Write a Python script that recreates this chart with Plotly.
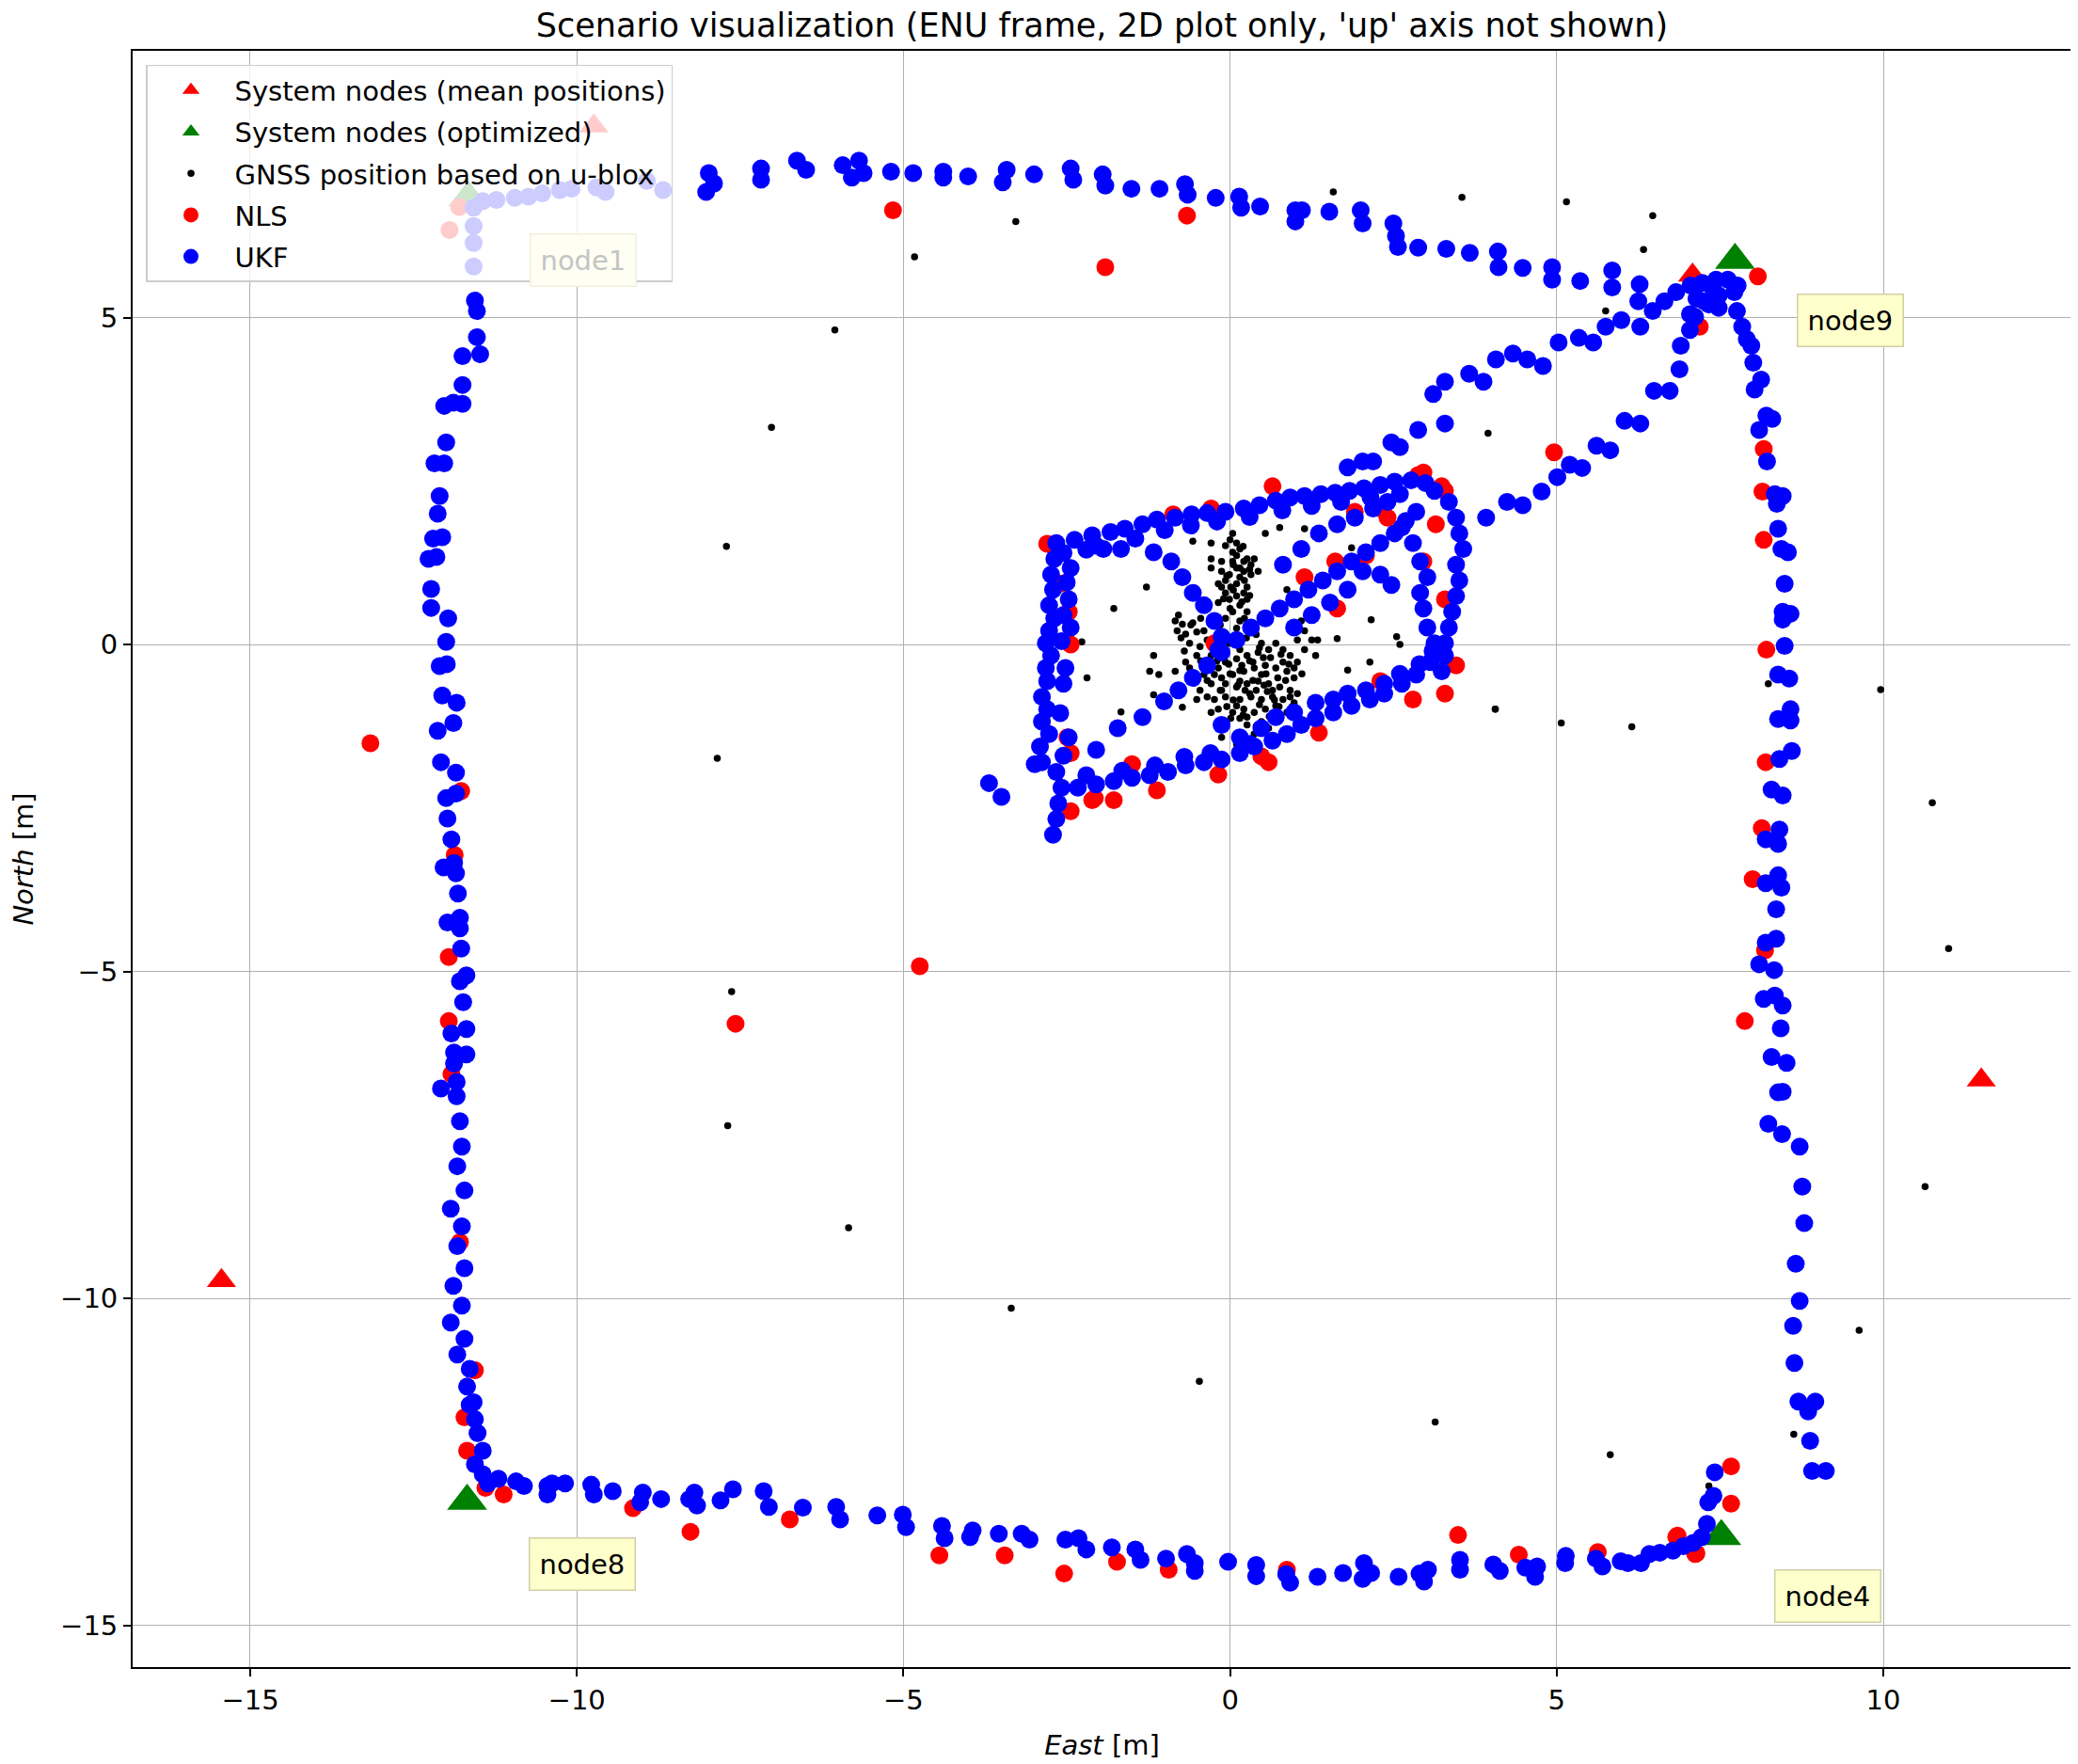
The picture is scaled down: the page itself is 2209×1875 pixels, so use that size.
import plotly.graph_objects as go

# ---------------- data (East, North) in metres ----------------
nodes_mean = [(-9.74, 7.93), (7.08, 5.65), (11.50, -6.66), (-15.44, -9.73)]
nodes_opt = [(-11.66, 6.83), (7.73, 5.88), (7.52, -13.64), (-11.68, -13.10)]

gnss_far = [(1.58, 6.92), (3.55, 6.84), (5.15, 6.77), (6.47, 6.56), (6.33, 6.04), (5.75, 5.10),
            (3.95, 3.23), (-3.28, 6.47), (-4.83, 5.93), (-6.05, 4.81), (-7.02, 3.32), (-7.71, 1.50),
            (-7.85, -1.74), (-7.63, -5.31), (-7.69, -7.36), (-5.84, -8.92), (-3.35, -10.15),
            (-0.47, -11.27), (3.14, -11.89), (5.82, -12.39), (7.33, -12.87), (8.63, -12.08),
            (9.63, -10.49), (10.64, -8.29), (11.00, -4.65), (10.75, -2.42), (9.96, -0.69),
            (8.24, -0.60), (6.15, -1.26), (5.07, -1.20), (4.06, -0.99)]
gnss_center_top = [(0.04, 1.70), (0.10, 1.55), (0.15, 1.46), (0.10, 1.36), (0.26, 1.31), (0.37, 1.31),
                   (0.04, 1.27), (0.15, 1.17), (-0.13, 1.12), (-0.01, 1.07), (0.15, 1.03), (0.32, 1.07),
                   (0.43, 1.12), (-0.29, 1.31), (-0.29, 1.17), (-0.57, 1.58), (-0.29, 1.55), (0.54, 1.70),
                   (0.76, 1.79), (1.14, 1.77), (-0.07, 0.98), (0.10, 0.93), (0.26, 0.88), (-0.07, 0.79),
                   (0.10, 0.74), (0.15, 0.60), (0.04, 0.50), (-0.07, 1.51), (0.04, 1.41), (0.32, 1.22),
                   (-0.13, 0.88), (-0.01, 0.69), (-0.18, 0.64), (0.26, 0.69), (-0.07, 0.40), (0.10, 1.17),
                   (0.21, 1.12), (0.01, 0.88), (0.21, 0.79), (-0.18, 0.93), (0.15, 0.36), (0.26, 0.50),
                   (-0.13, 1.27), (0.21, 1.27), (0.00, 1.60), (0.20, 1.50), (0.05, 1.22), (0.30, 1.15),
                   (-0.05, 1.05), (0.22, 0.98), (0.05, 0.83), (0.30, 0.75), (-0.10, 0.70), (0.18, 0.65),
                   (0.00, 0.55), (0.22, 0.40), (-0.15, 0.30), (0.10, 0.25), (0.25, 0.10), (0.40, 0.15),
                   (0.05, 0.10)]
gnss_center_side = [(-0.79, 0.45), (-0.84, 0.36), (-0.73, 0.31), (-0.57, 0.33), (-0.81, 0.21), (-0.68, 0.16),
                    (-0.51, 0.19), (-0.40, 0.21), (-0.35, 0.07), (-0.62, 0.02), (-0.46, -0.03), (-0.51, -0.17),
                    (-0.29, -0.17), (-0.68, -0.27), (-0.84, -0.41), (-0.62, -0.36), (-1.23, -0.41),
                    (-1.09, -0.46), (-1.17, -0.17), (-1.28, 0.88), (-1.78, 0.55), (-2.27, 0.04),
                    (-2.19, -0.51), (-1.17, -0.77), (-0.73, -0.96), (-1.67, -1.03), (0.87, 0.84),
                    (1.14, 0.88), (0.98, 0.74), (1.09, 0.36), (1.14, 0.21), (1.03, 0.07), (1.25, 0.07),
                    (1.34, 0.07), (1.14, -0.08), (1.31, -0.17), (1.64, 0.09), (1.80, -0.39), (2.14, -0.27),
                    (2.16, 0.38), (2.55, 0.12), (2.60, 0.00), (4.06, -0.99), (1.86, 1.48), (1.58, 0.50),
                    (-0.70, -0.10), (-0.75, 0.10), (-0.60, 0.30), (-0.45, 0.40), (-0.45, -0.25),
                    (-0.35, -0.55), (-0.20, -0.25)]
gnss_center_low = [(-0.18, -0.36), (-0.07, -0.27), (0.10, -0.22), (0.26, -0.17), (0.43, -0.12), (0.59, -0.08),
                   (0.70, 0.02), (0.81, -0.08), (0.92, -0.17), (1.03, -0.27), (-0.13, -0.51), (0.04, -0.46),
                   (0.21, -0.41), (0.37, -0.36), (0.54, -0.32), (0.70, -0.36), (0.87, -0.41), (0.98, -0.51),
                   (-0.29, -0.60), (-0.13, -0.70), (0.10, -0.65), (0.26, -0.60), (0.43, -0.56), (0.59, -0.60),
                   (0.76, -0.65), (0.92, -0.70), (1.03, -0.75), (-0.24, -0.84), (-0.07, -0.80), (0.15, -0.84),
                   (0.32, -0.80), (0.48, -0.84), (0.65, -0.80), (0.81, -0.84), (0.98, -0.89), (-0.18, -0.99),
                   (0.04, -1.04), (0.21, -0.99), (0.37, -1.04), (0.54, -0.99), (0.70, -0.94), (0.87, -1.04),
                   (0.15, -1.13), (0.26, -1.23), (0.48, -1.18), (-0.40, -0.46), (-0.46, -0.70), (-0.01, 0.02),
                   (0.15, -0.08), (0.48, 0.02), (-0.62, -0.56), (-0.35, -0.80), (-0.51, -0.84), (-0.29, -1.04),
                   (-0.13, -1.42), (0.10, -1.52), (0.37, -1.37), (0.59, -1.28), (0.18, -0.32), (0.35, -0.27),
                   (0.51, -0.20), (0.23, -0.70), (0.40, -0.70), (0.57, -0.72), (0.73, -0.51), (0.10, -0.94),
                   (-0.07, -0.60), (-0.24, -0.46), (0.15, -0.56), (0.48, -0.46), (0.81, -0.27), (0.98, -0.36),
                   (0.92, -0.80), (0.01, -1.13), (0.26, -1.11), (0.45, -0.05), (0.62, -0.20), (0.78, -0.15),
                   (0.30, -0.25), (0.15, -0.40), (0.55, -0.45), (0.85, -0.55), (0.65, -0.70), (0.30, -0.75),
                   (0.05, -0.85), (0.45, -0.92), (0.75, -0.95), (0.95, -0.95), (0.20, -1.08), (0.60, -1.10),
                   (0.40, -1.25), (-0.05, -0.95), (-0.15, -0.70), (0.00, -0.45), (0.68, -0.85), (0.90, -0.30),
                   (1.10, -0.45), (0.52, -0.62), (0.35, -0.55), (0.12, -0.62), (-0.02, -0.30)]

nls_outer = [(-11.80, 6.69), (-11.95, 6.34), (-5.16, 6.64), (-0.66, 6.56), (-1.91, 5.77), (-13.16, -1.51),
             (-4.75, -4.92), (-7.57, -5.80), (4.96, 2.94), (8.08, 5.63), (7.19, 4.86), (8.17, 2.99),
             (8.15, 2.34), (8.17, 1.60), (8.21, -0.08), (8.20, -1.80), (8.14, -2.81), (8.00, -3.59),
             (8.19, -4.68), (7.88, -5.76), (7.67, -12.57), (7.67, -13.14), (6.85, -13.63), (7.14, -13.90),
             (7.12, -13.91), (6.83, -13.65), (5.63, -13.88), (4.42, -13.92), (3.49, -13.62), (0.87, -14.15),
             (-0.94, -14.15), (-1.73, -14.03), (-2.54, -14.21), (-3.45, -13.93), (-4.45, -13.93),
             (-6.74, -13.38), (-8.26, -13.57), (-9.14, -13.21), (-11.12, -13.00), (-11.40, -12.90),
             (-11.68, -12.33), (-11.72, -11.82), (-11.56, -11.10), (-11.79, -9.14), (-11.77, -2.24),
             (-11.87, -3.22), (-11.96, -4.78), (-11.96, -5.76), (-11.92, -6.57)]
nls_center = [(-2.80, 1.54), (0.65, 2.42), (-0.87, 1.99), (-0.29, 2.08), (2.96, 2.63), (3.24, 2.42),
              (3.15, 1.84), (3.29, 0.69), (3.46, -0.32), (3.29, -0.75), (2.80, -0.84), (2.30, -0.56),
              (1.36, -1.35), (0.59, -1.80), (-0.18, -1.99), (-1.12, -2.23), (-1.50, -1.83), (-1.78, -2.38),
              (-2.11, -2.38), (-2.44, -2.55), (-2.60, 0.93), (-2.47, 0.50), (-2.44, 0.00), (-2.49, -1.42),
              (-2.44, -1.66), (1.61, 1.27), (2.08, 1.36), (1.91, 2.03), (1.14, 1.03), (1.64, 0.55),
              (2.30, 2.08), (2.96, 1.27), (2.41, 1.94), (-0.24, 0.02), (0.48, -1.71), (2.88, 2.59),
              (3.29, 2.35), (-2.07, -2.35)]

ukf_left = [(-11.58, 6.68), (-11.58, 6.40), (-11.58, 6.14), (-11.58, 5.78), (-11.56, 5.26), (-11.53, 5.10),
            (-11.53, 4.70), (-11.48, 4.44), (-11.75, 4.41), (-11.75, 3.97), (-11.75, 3.68), (-12.03, 3.65),
            (-11.89, 3.70), (-12.00, 3.09), (-12.18, 2.77), (-12.03, 2.77), (-12.10, 2.27), (-12.13, 2.00),
            (-12.20, 1.62), (-12.06, 1.64), (-12.27, 1.31), (-12.15, 1.34), (-12.23, 0.85), (-12.23, 0.56),
            (-11.97, 0.40), (-12.00, 0.04), (-12.10, -0.33), (-11.99, -0.30), (-12.06, -0.78), (-11.84, -0.89),
            (-12.13, -1.32), (-11.89, -1.20), (-12.08, -1.80), (-11.85, -1.96), (-12.00, -2.35), (-11.85, -2.28),
            (-11.98, -2.66), (-11.92, -2.98), (-12.04, -3.41), (-11.88, -3.34), (-11.85, -3.50), (-11.82, -3.81),
            (-11.98, -4.25), (-11.79, -4.18), (-11.79, -4.34), (-11.77, -4.65), (-11.69, -5.06), (-11.79, -5.15),
            (-11.74, -5.47), (-11.69, -5.88), (-11.92, -5.95), (-11.69, -6.27), (-11.88, -6.24), (-11.88, -6.41),
            (-12.08, -6.79), (-11.84, -6.69), (-11.84, -6.91), (-11.79, -7.29), (-11.76, -7.68), (-11.83, -7.98),
            (-11.72, -8.35), (-11.93, -8.63), (-11.76, -8.90), (-11.83, -9.20), (-11.72, -9.54), (-11.89, -9.81),
            (-11.76, -10.11), (-11.93, -10.37), (-11.72, -10.62), (-11.83, -10.86), (-11.64, -11.08),
            (-11.68, -11.35), (-11.58, -11.59), (-11.64, -11.63), (-11.56, -11.85), (-11.52, -12.06),
            (-11.44, -12.33), (-11.56, -12.54), (-11.44, -12.69), (-11.36, -12.83)]
ukf_bottom = [(-11.20, -12.76), (-10.93, -12.80), (-10.81, -12.87), (-10.45, -12.87), (-10.45, -13.00),
              (-10.38, -12.83), (-10.18, -12.83), (-9.78, -12.85), (-9.74, -13.00), (-9.45, -12.95),
              (-8.99, -12.97), (-9.03, -13.12), (-8.71, -13.07), (-8.20, -12.97), (-8.28, -13.07),
              (-8.16, -13.17), (-7.80, -13.09), (-7.61, -12.92), (-7.14, -12.95), (-7.06, -13.19),
              (-6.54, -13.20), (-6.03, -13.19), (-5.97, -13.38), (-5.40, -13.32), (-5.01, -13.31),
              (-4.96, -13.50), (-4.41, -13.48), (-4.37, -13.67), (-3.98, -13.65), (-3.94, -13.55),
              (-3.54, -13.60), (-3.19, -13.60), (-3.07, -13.69), (-2.52, -13.69), (-2.32, -13.67),
              (-2.20, -13.84), (-1.81, -13.81), (-1.45, -13.84), (-1.37, -14.00), (-0.98, -13.98),
              (-0.66, -13.91), (-0.54, -14.05), (-0.54, -14.17), (-0.03, -14.03), (0.40, -14.08),
              (0.40, -14.25), (0.86, -14.22), (0.92, -14.35), (1.34, -14.26), (1.73, -14.20), (2.05, -14.05),
              (2.16, -14.20), (2.03, -14.29), (2.58, -14.26), (3.03, -14.15), (2.90, -14.21), (2.97, -14.33),
              (3.52, -14.00), (3.52, -14.15), (4.03, -14.07), (4.13, -14.17), (4.52, -14.12), (4.70, -14.10),
              (4.67, -14.26), (5.14, -13.94), (5.13, -14.05), (5.60, -13.98), (5.70, -14.10), (5.98, -14.02),
              (6.09, -14.05), (6.29, -14.05), (6.42, -13.91), (6.58, -13.89), (6.78, -13.86), (6.94, -13.79),
              (7.09, -13.74), (7.22, -13.65), (7.30, -13.45), (7.32, -13.12), (7.40, -13.02), (7.42, -12.66)]
ukf_right = [(7.72, 5.39), (7.76, 5.10), (7.84, 4.86), (7.91, 4.67), (7.98, 4.57), (8.01, 4.31), (8.13, 4.05),
             (8.03, 3.90), (8.21, 3.50), (8.30, 3.45), (8.10, 3.28), (8.22, 2.80), (8.34, 2.30), (8.46, 2.27),
             (8.37, 2.15), (8.39, 1.77), (8.44, 1.46), (8.54, 1.41), (8.49, 0.93), (8.46, 0.50), (8.58, 0.47),
             (8.46, 0.38), (8.49, -0.02), (8.39, -0.46), (8.56, -0.52), (8.58, -0.99), (8.39, -1.14),
             (8.58, -1.16), (8.60, -1.63), (8.41, -1.75), (8.29, -2.22), (8.46, -2.31), (8.41, -2.83),
             (8.20, -2.98), (8.39, -3.05), (8.39, -3.53), (8.20, -3.65), (8.44, -3.72), (8.36, -4.05),
             (8.36, -4.50), (8.20, -4.56), (8.10, -4.89), (8.33, -4.98), (8.17, -5.42), (8.34, -5.37),
             (8.46, -5.52), (8.43, -5.87), (8.29, -6.31), (8.52, -6.40), (8.46, -6.84), (8.39, -6.85),
             (8.24, -7.33), (8.45, -7.49), (8.72, -7.68), (8.76, -8.29), (8.79, -8.85), (8.66, -9.47),
             (8.72, -10.04), (8.62, -10.42), (8.64, -10.99), (8.70, -11.58), (8.96, -11.58), (8.85, -11.73),
             (8.88, -12.18), (8.91, -12.64), (9.12, -12.64)]
ukf_top = [(-11.44, 6.78), (-11.23, 6.80), (-10.95, 6.83), (-10.74, 6.85), (-10.53, 6.90), (-10.26, 6.95),
           (-10.08, 6.97), (-9.70, 6.99), (-9.56, 6.92), (-8.93, 7.09), (-8.68, 6.95), (-8.02, 6.92),
           (-7.98, 7.21), (-7.90, 7.05), (-7.18, 7.28), (-7.18, 7.11), (-6.63, 7.40), (-6.49, 7.26),
           (-5.93, 7.33), (-5.68, 7.40), (-5.61, 7.21), (-5.79, 7.14), (-5.19, 7.23), (-4.85, 7.21),
           (-4.39, 7.23), (-4.39, 7.14), (-4.01, 7.16), (-3.42, 7.26), (-3.48, 7.07), (-3.00, 7.19),
           (-2.44, 7.28), (-2.40, 7.11), (-1.95, 7.19), (-1.91, 7.02), (-1.51, 6.97), (-1.08, 6.97),
           (-0.69, 7.04), (-0.65, 6.88), (-0.22, 6.83), (0.14, 6.85), (0.17, 6.68), (0.46, 6.70),
           (1.00, 6.64), (1.10, 6.64), (1.00, 6.47), (1.52, 6.62), (2.00, 6.64), (2.03, 6.44), (2.50, 6.44),
           (2.54, 6.25), (2.57, 6.08), (2.88, 6.07), (3.31, 6.05), (3.67, 5.99), (4.10, 6.01), (4.11, 5.77),
           (4.48, 5.76), (4.93, 5.77), (4.93, 5.58), (5.36, 5.56), (5.85, 5.72), (5.85, 5.46), (6.27, 5.51),
           (6.25, 5.25)]
ukf_node9 = [(6.47, 5.10), (6.65, 5.25), (6.83, 5.39), (7.05, 5.49), (7.23, 5.53), (7.44, 5.58), (7.62, 5.58),
             (7.77, 5.49), (7.14, 5.29), (7.33, 5.20), (7.04, 5.05), (7.48, 5.34), (7.26, 5.25), (7.41, 5.39),
             (7.48, 5.15), (7.12, 5.01)]
ukf_diag_upper = [(1.80, 2.71), (2.03, 2.80), (2.19, 2.80), (2.47, 3.09), (2.60, 3.02), (2.88, 3.28),
                  (3.29, 3.38), (3.11, 3.83), (3.29, 4.02), (3.66, 4.14), (3.88, 4.02), (4.07, 4.36),
                  (4.33, 4.45), (4.55, 4.36), (4.79, 4.26), (5.03, 4.62), (5.34, 4.69), (5.56, 4.62),
                  (5.75, 4.86), (5.99, 4.96), (6.28, 4.86)]
ukf_diag_lower = [(7.04, 4.81), (6.90, 4.57), (6.88, 4.21), (6.73, 3.88), (6.49, 3.88), (6.28, 3.38),
                  (6.04, 3.42), (5.82, 2.97), (5.61, 3.04), (5.39, 2.70), (5.20, 2.75), (5.01, 2.56),
                  (4.77, 2.34), (4.48, 2.13), (4.24, 2.18), (3.92, 1.94)]
ukf_loop_left = [(-2.66, 1.55), (-2.69, 1.31), (-2.74, 1.07), (-2.71, 0.84), (-2.77, 0.60), (-2.69, 0.40),
                 (-2.77, 0.21), (-2.82, 0.02), (-2.74, -0.17), (-2.82, -0.36), (-2.80, -0.56), (-2.88, -0.80),
                 (-2.80, -0.99), (-2.88, -1.18), (-2.77, -1.37), (-2.91, -1.56), (-2.88, -1.80), (-2.66, -1.95),
                 (-2.58, -2.19), (-2.63, -2.43), (-2.66, -2.67), (-2.71, -2.91), (-2.44, 0.26), (-2.47, 0.69),
                 (-2.52, -0.36), (-2.47, -1.42), (-2.44, 1.17), (-2.99, -1.83), (-3.69, -2.12), (-3.50, -2.33),
                 (-2.55, 1.40), (-2.50, 0.95), (-2.55, 0.45), (-2.58, 0.05), (-2.55, -0.60), (-2.60, -1.05),
                 (-2.55, -1.70)]
ukf_loop_top = [(-2.38, 1.60), (-2.11, 1.67), (-1.83, 1.72), (-1.61, 1.77), (-1.34, 1.84), (-1.12, 1.91),
                (-0.84, 1.94), (-0.59, 1.99), (-0.35, 2.01), (-0.07, 2.03), (0.21, 2.08), (0.45, 2.13),
                (0.70, 2.20), (0.92, 2.25), (1.14, 2.27), (1.39, 2.30), (1.61, 2.32), (1.83, 2.35), (2.05, 2.39),
                (2.30, 2.44), (2.52, 2.49), (2.77, 2.51), (2.99, 2.47), (-2.05, 1.51), (-1.94, 1.46),
                (-1.67, 1.46), (-1.17, 1.41), (-2.20, 1.45), (-1.45, 1.62), (-1.00, 1.75), (-0.60, 1.82),
                (-0.20, 1.88), (0.30, 1.95), (0.80, 2.05), (1.25, 2.12), (1.70, 2.18), (2.15, 2.25),
                (2.60, 2.30)]
ukf_loop_right = [(3.13, 2.35), (3.35, 2.18), (3.46, 1.94), (3.51, 1.70), (3.57, 1.46), (3.46, 1.22),
                  (3.51, 0.98), (3.46, 0.74), (3.40, 0.50), (3.35, 0.26), (3.29, 0.02), (3.29, -0.17),
                  (3.24, -0.41), (2.63, 1.79), (2.80, 1.55), (2.91, 1.27), (3.02, 1.03), (2.91, 0.79),
                  (2.96, 0.55), (3.02, 0.26), (3.13, 0.02)]
ukf_loop_bottom = [(3.07, -0.27), (2.85, -0.46), (2.63, -0.60), (2.36, -0.75), (2.14, -0.84), (1.86, -0.94),
                   (1.58, -1.04), (1.31, -1.13), (1.09, -1.23), (0.87, -1.37), (0.65, -1.47), (0.37, -1.56),
                   (0.15, -1.66), (-0.13, -1.76), (-0.40, -1.80), (-0.68, -1.85), (-0.95, -1.95), (-1.23, -2.00),
                   (-1.50, -2.04), (-1.78, -2.09), (-2.05, -2.14), (-2.33, -2.19), (-0.13, -1.23), (0.15, -1.42),
                   (0.48, -1.28), (0.70, -1.11), (0.98, -1.04), (1.31, -0.89), (1.58, -0.84), (1.80, -0.75),
                   (2.08, -0.70), (2.36, -0.60), (-2.20, -2.00), (-1.65, -1.93), (-1.15, -1.85), (-0.70, -1.72),
                   (-0.30, -1.66), (0.30, -1.52), (2.60, -0.45), (2.90, -0.30), (3.10, -0.10)]
ukf_loop_diag = [(-2.05, -1.61), (-1.72, -1.28), (-1.34, -1.11), (-1.01, -0.87), (-0.79, -0.70), (-0.57, -0.51),
                 (-0.35, -0.32), (-0.13, -0.12), (0.10, 0.07), (0.32, 0.26), (0.54, 0.40), (0.76, 0.55),
                 (0.98, 0.69), (1.20, 0.84), (1.42, 0.98), (1.64, 1.12), (1.86, 1.27), (2.08, 1.41), (2.30, 1.55),
                 (2.52, 1.70), (2.69, 1.89), (2.85, 2.03), (0.81, 1.22), (1.09, 1.46), (1.36, 1.70), (1.64, 1.84),
                 (1.91, 1.94), (2.19, 2.08), (2.41, 2.18), (0.98, 0.26), (1.25, 0.45), (1.53, 0.64), (1.80, 0.84),
                 (2.03, 1.12), (2.30, 1.07), (2.47, 0.91), (-0.90, 1.27), (-0.73, 1.03), (-0.57, 0.79),
                 (-0.40, 0.60), (-0.24, 0.36), (-0.13, 0.12), (-0.18, -0.08)]

node_labels = ["node1", "node9", "node4", "node8"]
label_pos = [(-9.90, 5.88), (9.49, 4.96), (9.15, -14.55), (-9.92, -14.06)]

x_ticks = [-15, -10, -5, 0, 5, 10]
y_ticks = [-15, -10, -5, 0, 5]


def xs(pts):
    return [p[0] for p in pts]


def ys(pts):
    return [p[1] for p in pts]


gnss = gnss_far + gnss_center_top + gnss_center_side + gnss_center_low
nls = nls_outer + nls_center
ukf = (ukf_left + ukf_bottom + ukf_right + ukf_top + ukf_node9 + ukf_diag_upper + ukf_diag_lower
       + ukf_loop_left + ukf_loop_top + ukf_loop_right + ukf_loop_bottom + ukf_loop_diag)

FONT = "DejaVu Sans"
FS = 29
W, H = 2201, 1867   # page body has an 8 px margin

fig = go.Figure()
fig.add_trace(go.Scatter(x=xs(nodes_mean), y=ys(nodes_mean), mode="markers", name="System nodes (mean positions)",
                         legendgroup="a",
                         marker=dict(symbol="triangle-up", size=27, color="#ff0000")))
fig.add_trace(go.Scatter(x=xs(nodes_opt), y=ys(nodes_opt), mode="markers", name="System nodes (optimized)",
                         legendgroup="b",
                         marker=dict(symbol="triangle-up", size=37, color="#008000")))
fig.add_trace(go.Scatter(x=xs(gnss), y=ys(gnss), mode="markers", name="GNSS position based on u-blox",
                         legendgroup="c",
                         marker=dict(symbol="circle", size=7.5, color="#000000")))
fig.add_trace(go.Scatter(x=xs(nls), y=ys(nls), mode="markers", name="NLS", legendgroup="d",
                         marker=dict(symbol="circle", size=19, color="#ff0000")))
fig.add_trace(go.Scatter(x=xs(ukf), y=ys(ukf), mode="markers", name="UKF", legendgroup="e",
                         marker=dict(symbol="circle", size=19, color="#0000ff")))

for i, (txt, (lx, ly)) in enumerate(zip(node_labels, label_pos)):
    faded = (i == 0)
    fig.add_annotation(x=lx, y=ly, xref="x", yref="y", text=txt, showarrow=False,
                       font=dict(family=FONT, size=FS, color="#c4c4c4" if faded else "#000000"),
                       bgcolor="#fefef3" if faded else "#ffffcc",
                       bordercolor="#f0f0dc" if faded else "#cfcfa6",
                       borderwidth=1.5, borderpad=10)

axis_common = dict(showgrid=True, gridcolor="#b0b0b0", gridwidth=1.4, zeroline=False,
                   showline=True, linecolor="#000000", linewidth=1.8, mirror=True,
                   ticks="outside", ticklen=8, tickwidth=1.8, tickcolor="#000000",
                   tickfont=dict(family=FONT, size=FS, color="#000000"))

fig.update_layout(
    width=W, height=H,
    margin=dict(l=133, r=7, t=46, b=103, autoexpand=False),
    paper_bgcolor="white", plot_bgcolor="white",
    font=dict(family=FONT, size=FS, color="#000000"),
    title=dict(text="Scenario visualization (ENU frame, 2D plot only, 'up' axis not shown)",
               x=0.5, xref="paper", xanchor="center", y=1 - 19 / H, yref="container",
               yanchor="middle", font=dict(family=FONT, size=35, color="#000000")),
    xaxis=dict(range=[-16.80, 12.88], tickvals=x_ticks, autorange=False, automargin=False,
               title=dict(text="<i>East</i> [m]", font=dict(family=FONT, size=FS), standoff=22),
               **axis_common),
    yaxis=dict(range=[-15.64, 9.08], tickvals=y_ticks, autorange=False, automargin=False,
               title=dict(text="<i>North</i> [m]", font=dict(family=FONT, size=FS), standoff=24),
               **axis_common),
    legend=dict(x=0.0068, y=0.9913, xanchor="left", yanchor="top",
                bgcolor="rgba(255,255,255,0.8)", bordercolor="#cccccc", borderwidth=1.5,
                font=dict(family=FONT, size=FS, color="#000000"),
                itemwidth=83, tracegroupgap=3.5, traceorder="grouped"),
    showlegend=True,
)

fig.write_html("out.html")
